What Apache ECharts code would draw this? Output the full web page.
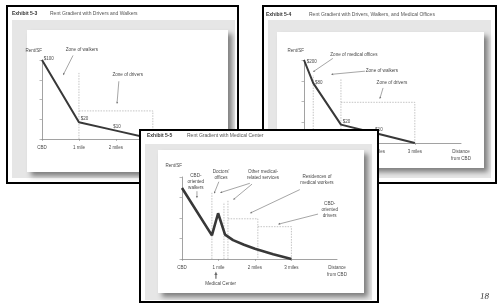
<!DOCTYPE html>
<html>
<head>
<meta charset="utf-8">
<script src="https://cdn.jsdelivr.net/npm/echarts@6/dist/echarts.min.js"></script>
<style>
html,body{margin:0;padding:0;background:#fff}
#main{width:498px;height:304px}
</style>
</head>
<body>
<div id="main"></div>
<script>
// distance axis (miles from CBD)
var miles = [0, 1, 2, 3];
var mileLabels = ['CBD', '1 mile', '2 miles', '3 miles'];
var axisEnd = 4.25;
var rentMax = 104;

// Exhibit 5-3 : drivers and walkers
var rent1 = [[0, 104], [1, 22], [2, 11], [3, 0]];
var rentTags1 = ['$100', '$20', '$10', ''];
var zones1 = [[[1, 0], [1, 87]], [[1, 37], [3, 37], [3, 0]]];

// Exhibit 5-4 : drivers, walkers, medical offices
var rent2 = [[0, 104], [0.25, 75], [1, 23], [2, 11.5], [3, 0]];
var rentTags2 = ['$200', '$80', '$20', '$10', ''];
var zones2 = [[[0.25, 0], [0.25, 85]], [[1, 0], [1, 81]], [[1, 51], [3, 51], [3, 0]]];

// Exhibit 5-5 : medical center
var rent3 = [[0, 90], [0.82, 30], [0.99, 58], [1.18, 31], [1.4, 24], [1.7, 18], [2.0, 13], [2.5, 6], [3, 0]];
var zones3 = [[[0.82, 0], [0.82, 84]], [[1.15, 0], [1.15, 72]], [[1.26, 0], [1.26, 75]],
  [[1.26, 51], [2.08, 51], [2.08, 0]], [[2.08, 41], [3, 41], [3, 0]]];

// notes: text, label centre, arrow from, arrow to (data units)
var notes1 = [
  ['Zone of walkers', [1.08, 117], [0.84, 110], [0.57, 84]],
  ['Zone of drivers', [2.32, 84], [2.08, 76], [2.03, 46]]
];
var notes2 = [
  ['Zone of medical offices', [1.35, 111], [0.78, 106], [0.24, 89]],
  ['Zone of walkers', [2.11, 91], [1.65, 90], [0.73, 86]],
  ['Zone of drivers', [2.38, 75], [2.14, 69], [2.05, 55]]
];
var notes3 = [
  ['CBD-\noriented\nwalkers', [0.38, 98], [0.41, 86], [0.41, 77]],
  ['Doctors\'\noffices', [1.07, 107], [1.01, 98], [0.88, 83]],
  ['Other medical-\nrelated services', [2.22, 107], [1.92, 95], [1.40, 75]],
  ['', [2.22, 107], [1.86, 96], [1.04, 84]],
  ['Residences of\nmedical workers', [3.70, 100], [3.23, 88], [1.86, 58]],
  ['CBD-\noriented\ndrivers', [4.05, 62], [3.73, 57], [2.63, 44]],
  ['Medical Center', [1.06, -32], [0.93, -25], [0.93, -16]]
];

var titles = [
  ['Exhibit 5-3', 'Rent Gradient with Drivers and Walkers'],
  ['Exhibit 5-4', 'Rent Gradient with Drivers, Walkers, and Medical Offices'],
  ['Exhibit 5-5', 'Rent Gradient with Medical Center']
];

var FONT = '"Liberation Sans", Arial, sans-serif';
var TXT = '#4a4a4a';

var grids = [
  {left: 42, top: 60, width: 157, height: 79},
  {left: 304, top: 60, width: 157, height: 83},
  {left: 182, top: 177, width: 155, height: 82}
];
var zBase = [5, 5, 30];
var nameGaps = [7, 7, 9];

// slide frames (layout only)
var slides = [
  {box: [7, 6, 231, 177], panel: [12, 20, 223, 158], inner: [27, 30, 201, 142], tx: [12, 50], ty: 14, z: 1},
  {box: [263, 6, 233, 177], panel: [268, 20, 223, 158], inner: [277, 32, 207, 136], tx: [266, 309], ty: 15, z: 1},
  {box: [140, 130, 238, 172], panel: [145, 144, 227, 156], inner: [158, 150, 206, 143], tx: [147, 187], ty: 136, z: 20}
];

var chart = echarts.init(document.getElementById('main'));

var xAxes = [], yAxes = [], series = [];
grids.forEach(function (g, i) {
  var z = zBase[i];
  xAxes.push({
    gridIndex: i, type: 'value', min: 0, max: axisEnd, interval: 1, z: z,
    axisLine: {lineStyle: {color: '#8a8a8a', width: 0.8}},
    axisTick: {show: true, length: 2, customValues: miles, lineStyle: {color: '#8a8a8a', width: 0.6}},
    axisLabel: {
      customValues: miles, fontSize: 4.5, color: TXT, margin: 6, fontFamily: FONT,
      formatter: function (v) { var k = miles.indexOf(v); return k < 0 ? '' : mileLabels[k]; }
    },
    splitLine: {show: false},
    name: 'Distance\nfrom CBD', nameLocation: 'end', nameGap: 0,
    nameTextStyle: {fontSize: 4.5, color: TXT, fontFamily: FONT, align: 'center', verticalAlign: 'top',
      lineHeight: 7, padding: [5, 0, 0, 0]}
  });
  yAxes.push({
    gridIndex: i, type: 'value', min: 0, max: rentMax, interval: 26, z: z,
    axisLine: {lineStyle: {color: '#8a8a8a', width: 0.8}},
    axisTick: {show: true, length: 2.5, lineStyle: {color: '#8a8a8a', width: 0.6}},
    axisLabel: {show: false},
    splitLine: {show: false},
    name: 'Rent/SF', nameLocation: 'end', nameGap: nameGaps[i],
    nameTextStyle: {fontSize: 4.5, color: TXT, fontFamily: FONT, align: 'right'}
  });
});

function zoneSeries(list, i) {
  list.forEach(function (pts) {
    series.push({
      type: 'line', xAxisIndex: i, yAxisIndex: i, data: pts, symbol: 'none', silent: true,
      z: zBase[i] + 1, clip: false, animation: false,
      lineStyle: {color: '#9c9c9c', width: 0.6, type: [1.5, 1.2]}
    });
  });
}

function rentSeries(pts, tags, pos, i, w) {
  series.push({
    type: 'line', xAxisIndex: i, yAxisIndex: i, z: zBase[i] + 2, clip: false, animation: false, silent: true,
    symbol: 'circle', symbolSize: 0.5, showSymbol: true,
    itemStyle: {color: 'rgba(0,0,0,0)'},
    lineStyle: {color: '#383838', width: w},
    label: {show: false, fontSize: 4.5, color: TXT, fontFamily: FONT},
    data: pts.map(function (p, k) {
      var item = {value: p};
      if (tags && tags[k]) {
        item.label = {show: true, formatter: tags[k], position: pos[k][0], offset: pos[k][1], distance: 1.5};
      }
      return item;
    })
  });
}

zoneSeries(zones1, 0);
zoneSeries(zones2, 1);
zoneSeries(zones3, 2);
rentSeries(rent1, rentTags1, [['right', [0, -1]], ['right', [0, -4]], ['top', [1, 0]]], 0, 2);
rentSeries(rent2, rentTags2, [['right', [1, 2]], ['right', [0, 0]], ['right', [0, -3]], ['top', [1, 0]]], 1, 2);
rentSeries(rent3, null, null, 2, 2.6);

chart.setOption({
  backgroundColor: '#fff',
  animation: false,
  grid: grids,
  xAxis: xAxes,
  yAxis: yAxes,
  series: series
});

// frames, titles and notes
var els = [];
slides.forEach(function (s, i) {
  var z = s.z;
  els.push({type: 'rect', silent: true, z: z, z2: 0,
    shape: {x: s.box[0], y: s.box[1], width: s.box[2], height: s.box[3]},
    style: {fill: '#fff', stroke: '#000', lineWidth: 2}});
  els.push({type: 'rect', silent: true, z: z, z2: 1,
    shape: {x: s.panel[0], y: s.panel[1], width: s.panel[2], height: s.panel[3]},
    style: {fill: '#e6e6e6'}});
  els.push({type: 'rect', silent: true, z: z, z2: 2,
    shape: {x: s.inner[0], y: s.inner[1], width: s.inner[2], height: s.inner[3]},
    style: {fill: '#fff', shadowColor: 'rgba(0,0,0,0.45)', shadowBlur: 5, shadowOffsetX: 4, shadowOffsetY: 4}});
  els.push({type: 'text', silent: true, z: z, z2: 3,
    style: {text: titles[i][0], x: s.tx[0], y: s.ty, fill: '#333', fontSize: 5, fontWeight: 'bold',
      fontFamily: FONT, verticalAlign: 'middle'}});
  els.push({type: 'text', silent: true, z: z, z2: 3,
    style: {text: titles[i][1], x: s.tx[1], y: s.ty, fill: '#555', fontSize: 5, fontFamily: FONT,
      verticalAlign: 'middle'}});
});

function arrow(p0, p1, z, w, head) {
  var dx = p1[0] - p0[0], dy = p1[1] - p0[1];
  var L = Math.sqrt(dx * dx + dy * dy) || 1;
  var ux = dx / L, uy = dy / L;
  var hl = head, hw = head * 0.45;
  var bx = p1[0] - ux * hl, by = p1[1] - uy * hl;
  return [
    {type: 'line', silent: true, z: z, z2: 5, shape: {x1: p0[0], y1: p0[1], x2: bx, y2: by},
      style: {stroke: '#6a6a6a', lineWidth: w}},
    {type: 'polygon', silent: true, z: z, z2: 5,
      shape: {points: [[p1[0], p1[1]], [bx - uy * hw, by + ux * hw], [bx + uy * hw, by - ux * hw]]},
      style: {fill: '#6a6a6a'}}
  ];
}

[notes1, notes2, notes3].forEach(function (notes, i) {
  var z = zBase[i] + 3;
  notes.forEach(function (n) {
    var c = chart.convertToPixel({gridIndex: i}, n[1]);
    var a = chart.convertToPixel({gridIndex: i}, n[2]);
    var b = chart.convertToPixel({gridIndex: i}, n[3]);
    if (n[0]) {
      els.push({type: 'text', silent: true, z: z, z2: 5,
        style: {text: n[0], x: c[0], y: c[1], fill: TXT, fontSize: 4.6, fontFamily: FONT,
          align: 'center', verticalAlign: 'middle', lineHeight: 6}});
    }
    var big = n[0] === 'Medical Center';
    els = els.concat(arrow(a, b, z, big ? 1.2 : 0.6, big ? 3.5 : 2.2));
  });
});

els.push({type: 'text', silent: true, z: 40,
  style: {text: '18', x: 489, y: 297, fill: '#333', fontSize: 9, fontStyle: 'italic',
    fontFamily: '"Liberation Serif", serif', align: 'right', verticalAlign: 'middle'}});

chart.setOption({graphic: {elements: els}});
</script>
</body>
</html>
